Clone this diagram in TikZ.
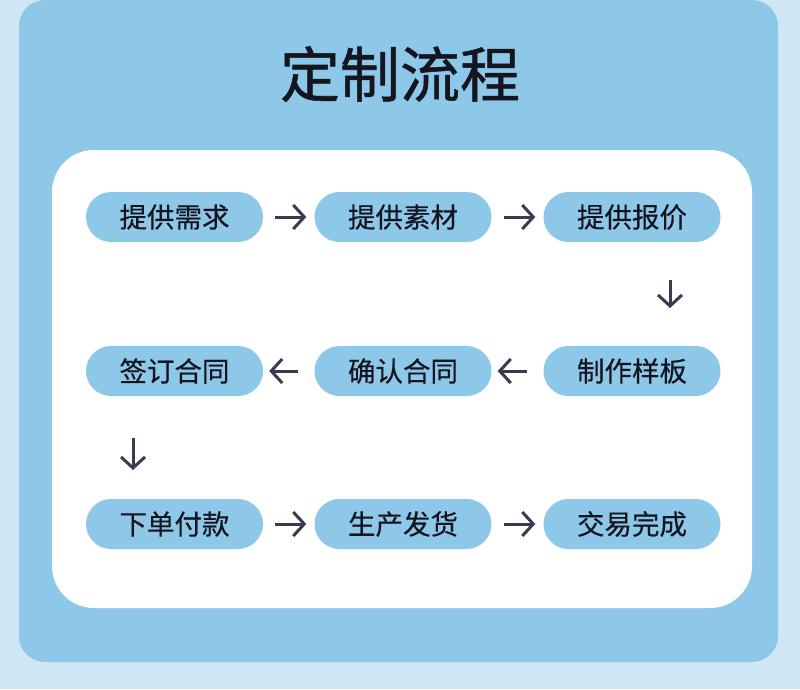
\documentclass[tikz,border=0pt]{standalone}
\usepackage{fontspec}
\newfontfamily\cjk{Noto Sans CJK SC}[FakeBold=0.4]
\newfontfamily\cjkb{Noto Sans CJK SC}[FakeBold=0.9]
\usetikzlibrary{arrows.meta}
\definecolor{bgout}{HTML}{CFE6F4}
\definecolor{panel}{HTML}{8EC8E9}
\definecolor{pill}{HTML}{8EC8E9}
\definecolor{arr}{HTML}{3A3A52}
\definecolor{txt}{HTML}{151520}
\tikzset{
  pillbox/.style={fill=pill, rounded corners=25pt, minimum width=177pt, minimum height=50pt, inner sep=0pt, text=txt, font=\cjk\fontsize{27.5}{30}\selectfont},
  flow/.style={draw=arr, line width=3pt, -{Straight Barb[length=11pt,width=24pt,line width=3pt]}},
}
\begin{document}
\begin{tikzpicture}[x=1pt,y=-1pt]
\useasboundingbox (0,0) rectangle (800,689);
\fill[bgout] (0,0) rectangle (800,689);
\fill[panel, rounded corners=26pt] (19,0) rectangle (778,662);
\fill[white, rounded corners=42pt] (52,150) rectangle (752,608);
\node[text=txt, font=\cjkb\fontsize{60}{66}\selectfont] (title) at (400,74) {定制流程};
\node[pillbox] (a1) at (174.5,217) {提供需求};
\node[pillbox] (a2) at (403,217) {提供素材};
\node[pillbox] (a3) at (632,217) {提供报价};
\node[pillbox] (b3) at (632,371) {制作样板};
\node[pillbox] (b2) at (403,371) {确认合同};
\node[pillbox] (b1) at (174.5,371) {签订合同};
\node[pillbox] (c1) at (174.5,524) {下单付款};
\node[pillbox] (c2) at (403,524) {生产发货};
\node[pillbox] (c3) at (632,524) {交易完成};
\coordinate (d1s) at (670,242);
\coordinate (d1e) at (670,346);
\coordinate (d2s) at (133,396);
\coordinate (d2e) at (133,499);
\draw[flow, shorten <=12pt, shorten >=8pt] (a1) -- (a2);
\draw[flow, shorten <=12pt, shorten >=8pt] (a2) -- (a3);
\draw[flow, shorten <=38pt, shorten >=38pt] (d1s) -- (d1e);
\draw[flow, shorten <=16pt, shorten >=6pt] (b3) -- (b2);
\draw[flow, shorten <=16pt, shorten >=6pt] (b2) -- (b1);
\draw[flow, shorten <=42pt, shorten >=29pt] (d2s) -- (d2e);
\draw[flow, shorten <=12pt, shorten >=8pt] (c1) -- (c2);
\draw[flow, shorten <=12pt, shorten >=8pt] (c2) -- (c3);
\end{tikzpicture}
\end{document}
